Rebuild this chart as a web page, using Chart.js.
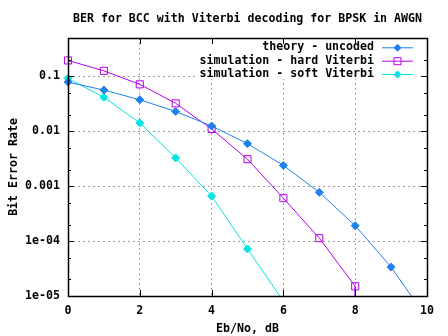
<!DOCTYPE html>
<html>
<head>
<meta charset="utf-8">
<script src="https://cdn.jsdelivr.net/npm/chart.js@4/dist/chart.umd.min.js"></script>
<style>
  html, body { margin: 0; padding: 0; background: #ffffff; }
  #wrap { width: 448px; height: 336px; }
</style>
</head>
<body>
<div id="wrap"><canvas id="berChart"></canvas></div>
<script>
// Eb/No points (dB) and BER values
const ebNo = [0, 1, 2, 3, 4, 5, 6, 7, 8, 9, 10];
const theoryBer = [0.0786, 0.0563, 0.0375, 0.0229, 0.0125, 0.00595, 0.00239, 0.000773, 0.000191, 3.36e-5, 3.9e-6];

const hardEbNo = [0, 1, 2, 3, 4, 5, 6, 7, 8, 8];
const hardBer = [0.195, 0.126, 0.0716, 0.0323, 0.011, 0.0031, 0.000605, 0.000113, 1.5e-5, 1e-7];

const softEbNo = [0, 1, 2, 3, 4, 5, 6];
const softBer = [0.092, 0.0415, 0.0142, 0.00327, 0.00066, 7.2e-5, 8e-6];

const seriesLabels = ['theory - uncoded', 'simulation - hard Viterbi', 'simulation - soft Viterbi'];
const xTicks = [0, 2, 4, 6, 8, 10];
const yTicks = [0.1, 0.01, 0.001, 1e-4, 1e-5];
const yTickLabels = ['0.1', '0.01', '0.001', '1e-04', '1e-05'];
const yMinorTicks = [2e-5, 5e-5, 2e-4, 5e-4, 0.002, 0.005, 0.02, 0.05, 0.2];

const FONT = { family: '"DejaVu Sans Mono", monospace', size: 11.6, weight: 'bold', lineHeight: '14px' };
const colors = ['#1f80f0', '#b400ec', '#00e4e4'];
const gridColor = '#a0a0a0';

function pairs(xs, ys) {
    return xs.map((x, i) => ({ x: x, y: ys[i] }));
}

// gnuplot-style frame, inward tics and opaque key drawn on top of the chart
const framePlugin = {
    id: 'gnuFrame',
    afterDraw(chart) {
        const ctx = chart.ctx;
        const area = chart.chartArea;
        const xs = chart.scales.x;
        const ys = chart.scales.y;
        ctx.save();

        // key box (opaque, no border)
        ctx.fillStyle = '#ffffff';
        ctx.fillRect(197, area.top + 1, 224, 40);
        const rowY = [47.3, 60.7, 74];
        ctx.font = 'bold 11.6px "DejaVu Sans Mono", monospace';
        ctx.textAlign = 'right';
        ctx.textBaseline = 'middle';
        chart.data.datasets.forEach((ds, i) => {
            const y = rowY[i];
            ctx.fillStyle = '#000000';
            ctx.fillText(ds.label, 374, y);
            ctx.strokeStyle = ds.borderColor;
            ctx.lineWidth = 1;
            ctx.beginPath();
            ctx.moveTo(382, y + 0.5);
            ctx.lineTo(413, y + 0.5);
            ctx.stroke();
            const cx = 397.5;
            ctx.beginPath();
            if (ds.pointStyle === 'rect') {
                ctx.rect(cx - 3.5, y - 3, 7, 7);
                ctx.stroke();
            } else {
                ctx.fillStyle = ds.borderColor;
                ctx.moveTo(cx - 4, y + 0.5);
                ctx.lineTo(cx, y - 3.5);
                ctx.lineTo(cx + 4, y + 0.5);
                ctx.lineTo(cx, y + 4.5);
                ctx.closePath();
                ctx.fill();
            }
        });

        // tics
        ctx.strokeStyle = '#000000';
        ctx.lineWidth = 1;
        ctx.beginPath();
        xTicks.forEach(v => {
            const px = Math.round(xs.getPixelForValue(v)) + 0.5;
            ctx.moveTo(px, area.top); ctx.lineTo(px, area.top + 6);
            ctx.moveTo(px, area.bottom); ctx.lineTo(px, area.bottom - 6);
        });
        yTicks.forEach(v => {
            const py = Math.round(ys.getPixelForValue(v)) + 0.5;
            ctx.moveTo(area.left, py); ctx.lineTo(area.left + 6, py);
            ctx.moveTo(area.right, py); ctx.lineTo(area.right - 6, py);
        });
        yMinorTicks.forEach(v => {
            const py = Math.round(ys.getPixelForValue(v)) + 0.5;
            ctx.moveTo(area.left, py); ctx.lineTo(area.left + 3, py);
            ctx.moveTo(area.right, py); ctx.lineTo(area.right - 3, py);
        });
        ctx.stroke();

        // border
        ctx.lineWidth = 1.5;
        ctx.strokeRect(Math.round(area.left) + 0.5, Math.round(area.top) + 0.5,
            Math.round(area.right - area.left), Math.round(area.bottom - area.top));
        ctx.restore();
    }
};

const datasets = [
    {
        label: seriesLabels[0],
        data: pairs(ebNo, theoryBer),
        borderColor: colors[0],
        backgroundColor: colors[0],
        pointStyle: 'rectRot',
        pointRadius: 4
    },
    {
        label: seriesLabels[1],
        data: pairs(hardEbNo, hardBer),
        borderColor: colors[1],
        backgroundColor: 'rgba(0,0,0,0)',
        pointStyle: 'rect',
        pointRadius: ctx => ctx.dataIndex === hardBer.length - 1 ? 0 : 5
    },
    {
        label: seriesLabels[2],
        data: pairs(softEbNo, softBer),
        borderColor: colors[2],
        backgroundColor: colors[2],
        pointStyle: 'rectRot',
        pointRadius: 4
    }
].map(ds => Object.assign({
    showLine: true,
    borderWidth: 1,
    pointBorderWidth: 1,
    pointBorderColor: ds.borderColor,
    pointBackgroundColor: ds.backgroundColor,
    tension: 0,
    clip: { left: 8, top: 8, right: 8, bottom: 0 }
}, ds));

new Chart(document.getElementById('berChart'), {
    type: 'scatter',
    data: { datasets: datasets },
    plugins: [framePlugin],
    options: {
        responsive: true,
        maintainAspectRatio: false,
        animation: false,
        layout: { padding: { left: 0, right: 21, top: 0, bottom: 0 } },
        plugins: {
            legend: { display: false },
            tooltip: { enabled: false },
            title: {
                display: true,
                text: 'BER for BCC with Viterbi decoding for BPSK in AWGN',
                fullSize: false,
                color: '#000000',
                font: FONT,
                padding: { top: 12, bottom: 12 }
            }
        },
        scales: {
            x: {
                type: 'linear',
                min: 0,
                max: 10,
                afterFit(scale) { scale.height = 40; },
                afterBuildTicks(scale) { scale.ticks = xTicks.map(v => ({ value: v })); },
                border: { display: false, dash: [2, 3] },
                grid: {
                    drawTicks: false,
                    color: c => (c.tick && (c.tick.value === 0 || c.tick.value === 10)) ? 'rgba(0,0,0,0)' : gridColor,
                    lineWidth: 1
                },
                ticks: { color: '#000000', font: FONT, padding: 8, maxRotation: 0 },
                title: {
                    display: true,
                    text: 'Eb/No, dB',
                    color: '#000000',
                    font: FONT,
                    padding: { top: 0, bottom: 0 }
                }
            },
            y: {
                type: 'logarithmic',
                min: 1e-5,
                max: 0.5,
                afterFit(scale) { scale.width = 68; },
                afterBuildTicks(scale) { scale.ticks = yTicks.map(v => ({ value: v })); },
                border: { display: false, dash: [2, 3] },
                grid: {
                    drawTicks: false,
                    color: c => (c.tick && c.tick.value === 1e-5) ? 'rgba(0,0,0,0)' : gridColor,
                    lineWidth: 1
                },
                ticks: {
                    color: '#000000',
                    font: FONT,
                    padding: 8,
                    callback: function(value) {
                        const i = yTicks.indexOf(value);
                        return i >= 0 ? yTickLabels[i] : '';
                    }
                },
                title: {
                    display: true,
                    text: 'Bit Error Rate',
                    color: '#000000',
                    font: FONT,
                    padding: { top: 7, bottom: 0 }
                }
            }
        }
    }
});
</script>
</body>
</html>
